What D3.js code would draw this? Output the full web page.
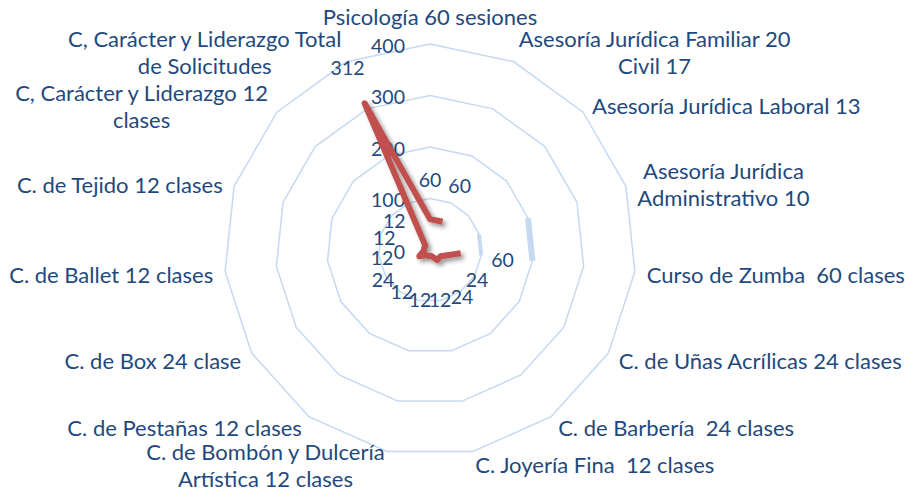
<!DOCTYPE html>
<html>
<head>
<meta charset="utf-8">
<script src="https://cdn.jsdelivr.net/npm/d3@7"></script>
<style>
  html, body { margin: 0; padding: 0; background: #fff; }
  text { font-family: Lato, "Open Sans", sans-serif; fill: #1f497d; white-space: pre; }
</style>
</head>
<body>
<div id="chart"></div>
<script>
var categories = [
  ["Psicología 60 sesiones"],
  ["Asesoría Jurídica Familiar 20", "Civil 17"],
  ["Asesoría Jurídica Laboral 13"],
  ["Asesoría Jurídica", "Administrativo 10"],
  ["Curso de Zumba  60 clases"],
  ["C. de Uñas Acrílicas 24 clases"],
  ["C. de Barbería  24 clases"],
  ["C. Joyería Fina  12 clases"],
  ["C. de Bombón y Dulcería", "Artística 12 clases"],
  ["C. de Pestañas 12 clases"],
  ["C. de Box 24 clase"],
  ["C. de Ballet 12 clases"],
  ["C. de Tejido 12 clases"],
  ["C, Carácter y Liderazgo 12", "clases"],
  ["C, Carácter y Liderazgo Total", "de Solicitudes"]
];
var values = [60, 60, null, null, 60, 24, 24, 12, 12, 12, 24, 12, 12, 12, 312];
var tickValues = [0, 100, 200, 300, 400];
// grid segments that Excel drew thick (between Administrativo and Zumba)
var thickRings = [100, 200];

var width = 905, height = 491,
    cx = 430, cy = 250, radius = 206,
    catFont = 22, numFont = 19.5, lineGap = 27;

var n = categories.length;
var angle = function(i) { return i * 2 * Math.PI / n; };
var r = d3.scaleLinear().domain([0, 400]).range([0, radius]);

var svg = d3.select("#chart").append("svg")
    .attr("width", width).attr("height", height);

var defs = svg.append("defs");
var shadow = defs.append("filter").attr("id", "shadow")
    .attr("x", "-20%").attr("y", "-20%").attr("width", "140%").attr("height", "140%");
shadow.append("feDropShadow")
    .attr("dx", 3).attr("dy", 3).attr("stdDeviation", 2)
    .attr("flood-color", "#000").attr("flood-opacity", 0.4);

var g = svg.append("g").attr("transform", "translate(" + cx + "," + cy + ")");

// rings
g.selectAll("path.ring")
  .data(tickValues.filter(function(t) { return t > 0; }))
  .enter().append("path")
    .attr("class", "ring")
    .attr("d", function(t) {
      return d3.lineRadial()
        .angle(function(i) { return angle(i); })
        .radius(r(t))
        .curve(d3.curveLinearClosed)(d3.range(n));
    })
    .style("fill", "none")
    .style("stroke", "#c6d9f1")
    .style("stroke-width", 1.5);

g.selectAll("path.thick")
  .data(thickRings)
  .enter().append("path")
    .attr("class", "thick")
    .attr("d", function(t) {
      return d3.lineRadial()
        .angle(function(i) { return angle(i); })
        .radius(r(t))([3, 4]);
    })
    .style("fill", "none")
    .style("stroke", "#c6d9f1")
    .style("stroke-width", function(t) { return t == 100 ? 4 : 6; });

// axis tick labels
g.selectAll("text.tick")
  .data(tickValues)
  .enter().append("text")
    .attr("class", "tick")
    .attr("x", -25)
    .attr("y", function(t) { return -r(t) + 2; })
    .attr("dy", "0.35em")
    .attr("text-anchor", "end")
    .style("font-size", numFont + "px")
    .text(function(t) { return t; });

// series line (Excel style: gaps at blank cells, closes back to first point)
var seq = d3.range(n + 2).map(function(i) { return i % n; });
var line = d3.lineRadial()
    .defined(function(i) { return values[i] != null; })
    .angle(function(i) { return angle(i); })
    .radius(function(i) { return r(values[i]); });

g.append("path")
    .attr("d", line(seq))
    .attr("filter", "url(#shadow)")
    .style("fill", "none")
    .style("stroke", "#c0504d")
    .style("stroke-width", 6)
    .style("stroke-linejoin", "round");

// data labels
g.selectAll("text.val")
  .data(d3.range(n).filter(function(i) { return values[i] != null; }))
  .enter().append("text")
    .attr("class", "val")
    .attr("x", function(i) { return (r(values[i]) + 42) * Math.sin(angle(i)); })
    .attr("y", function(i) { return -(r(values[i]) + 42) * Math.cos(angle(i)) + 3; })
    .attr("dy", "0.35em")
    .attr("text-anchor", "middle")
    .style("font-size", numFont + "px")
    .text(function(i) { return values[i]; });

// category labels
categories.forEach(function(lines, i) {
  var a = angle(i), s = Math.sin(a), c = Math.cos(a);
  var lx = (radius + 12) * s, ly = -(radius + 12) * c;
  var lab = g.append("g").attr("class", "cat");
  lines.forEach(function(t, k) {
    var by = Math.abs(s) < 0.01 ? ly - 7 : ly + 10 + (k - (lines.length - 1) / 2) * lineGap;
    lab.append("text")
      .attr("x", 0)
      .attr("y", by)
      .attr("text-anchor", "middle")
      .style("font-size", catFont + "px")
      .text(t);
  });
  var w = d3.max(lab.selectAll("text").nodes(), function(el) { return el.getComputedTextLength(); });
  var x = Math.abs(s) < 0.01 ? lx : (s > 0 ? lx + w / 2 : lx - w / 2);
  lab.attr("transform", "translate(" + x + ",0)");
});
</script>
</body>
</html>
